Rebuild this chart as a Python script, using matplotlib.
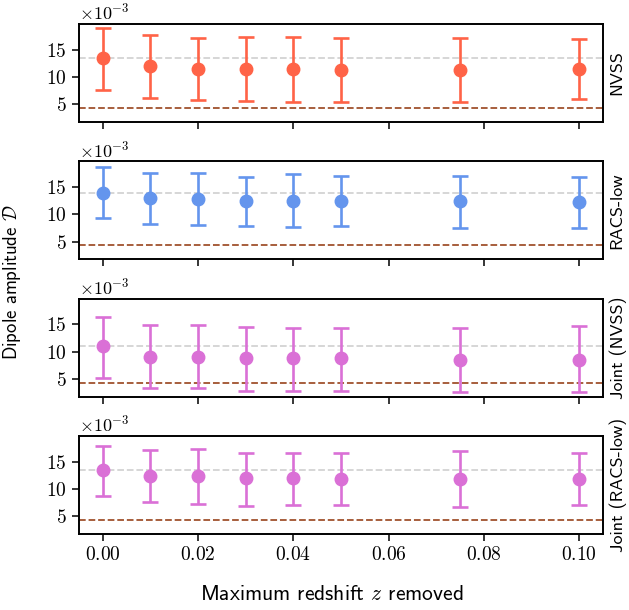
import numpy as np
import matplotlib
matplotlib.use("Agg")
import matplotlib.pyplot as plt

plt.rcParams['font.family'] = 'cmr10'
plt.rcParams['mathtext.fontset'] = 'cm'
plt.rcParams['axes.formatter.use_mathtext'] = True
plt.rcParams['axes.unicode_minus'] = False

# maximum redshift cut
z_removed = [0.0, 0.01, 0.02, 0.03, 0.04, 0.05, 0.075, 0.1]

# dipole amplitude, in units of 1e-3 (median, upper, lower)
nvss_d = [13.44, 12.0, 11.55, 11.44, 11.55, 11.25, 11.3, 11.5]
nvss_hi = [18.9, 17.67, 17.1, 17.25, 17.25, 17.1, 17.1, 17.05]
nvss_lo = [7.7, 6.1, 5.85, 5.6, 5.5, 5.5, 5.5, 6.0]

racs_d = [13.96, 12.96, 12.85, 12.5, 12.5, 12.5, 12.5, 12.35]
racs_hi = [18.65, 17.5, 17.5, 16.9, 17.3, 17.0, 17.0, 16.9]
racs_lo = [9.4, 8.2, 8.1, 7.9, 7.7, 7.85, 7.6, 7.5]

joint_nvss_d = [10.98, 9.08, 8.95, 8.77, 8.77, 8.77, 8.5, 8.5]
joint_nvss_hi = [16.3, 14.8, 14.8, 14.55, 14.36, 14.36, 14.36, 14.66]
joint_nvss_lo = [5.27, 3.3, 3.3, 2.9, 2.9, 2.9, 2.7, 2.6]

joint_racs_d = [13.42, 12.45, 12.4, 12.08, 12.0, 11.9, 11.78, 11.9]
joint_racs_hi = [17.8, 17.15, 17.27, 16.6, 16.6, 16.66, 16.9, 16.66]
joint_racs_lo = [8.66, 7.6, 7.3, 6.83, 7.1, 7.1, 6.65, 7.0]

expected = 4.35  # kinematic expectation, 1e-3

names = ['NVSS', 'RACS-low', 'Joint (NVSS)', 'Joint (RACS-low)']
colours = ['tomato', 'cornflowerblue', 'orchid', 'orchid']
series = [(nvss_d, nvss_hi, nvss_lo),
          (racs_d, racs_hi, racs_lo),
          (joint_nvss_d, joint_nvss_hi, joint_nvss_lo),
          (joint_racs_d, joint_racs_hi, joint_racs_lo)]

sans = 'cmss10'

fig, axes = plt.subplots(4, 1, figsize=(6.29, 6.10), dpi=100, sharex=True, sharey=True)
fig.subplots_adjust(left=0.1256, right=0.9587, top=0.9607, bottom=0.1246, hspace=0.4)

for ax, name, col, (d, hi, lo) in zip(axes, names, colours, series):
    d = np.array(d) * 1e-3
    hi = np.array(hi) * 1e-3
    lo = np.array(lo) * 1e-3
    ax.axhline(d[0], color='lightgrey', ls='--', lw=1.3, zorder=0)
    ax.axhline(expected * 1e-3, color='sienna', ls='--', lw=1.3, zorder=0)
    ax.errorbar(z_removed, d, yerr=[d - lo, hi - d], fmt='o', color=col,
                ms=9, lw=1.9, capsize=5.5, capthick=1.9)
    ax.ticklabel_format(axis='y', style='sci', scilimits=(-3, -3), useMathText=True)
    ax.yaxis.get_offset_text().set_fontsize(13)
    ax.tick_params(labelsize=14, length=5, width=1.1, pad=4)
    ax.text(1.012, 0.5, name, transform=ax.transAxes, rotation=90,
            va='center', ha='left', family=sans, fontsize=13)
    for s in ax.spines.values():
        s.set_linewidth(1.4)

axes[0].set_yticks([5e-3, 10e-3, 15e-3])

fig.text(12 / 629, 0.538, r'Dipole amplitude $\mathcal{D}$', rotation=90,
         va='center', ha='center', family=sans, fontsize=13.5)
fig.text(332 / 629, 0.026, r'Maximum redshift $z$ removed',
         va='center', ha='center', family=sans, fontsize=15.5)

fig.savefig('out.png', dpi=100)
